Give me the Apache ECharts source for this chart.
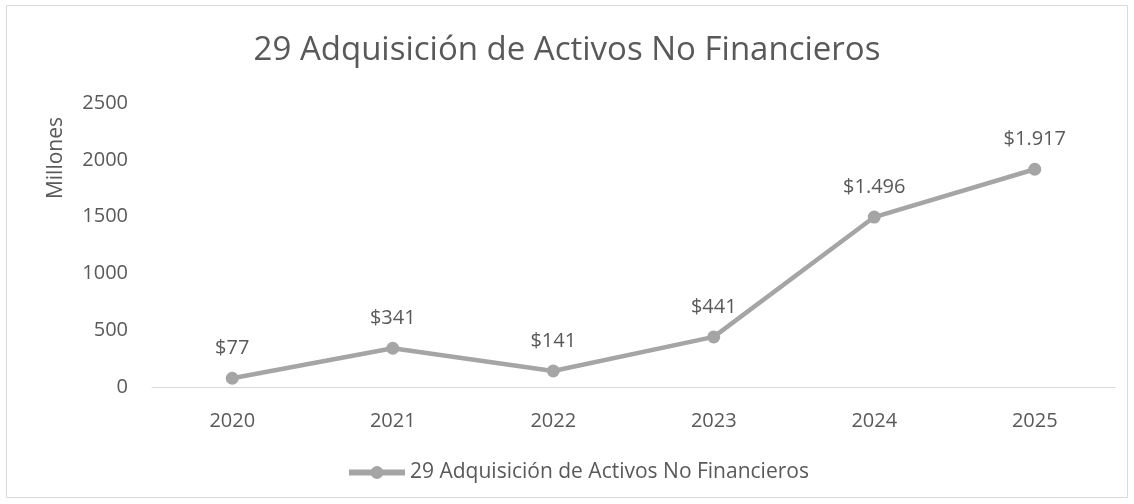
<!DOCTYPE html>
<html>
<head>
<meta charset="utf-8">
<script src="https://cdn.jsdelivr.net/npm/echarts@6/dist/echarts.min.js"></script>
<style>
  html, body { margin: 0; padding: 0; background: #fff; }
  #chart { width: 1134px; height: 504px; }
</style>
</head>
<body>
<div id="chart"></div>
<script>
// datos del gráfico
var years = ['2020', '2021', '2022', '2023', '2024', '2025'];
var montos = [77, 341, 141, 441, 1496, 1917];
var serieNombre = '29 Adquisición de Activos No Financieros';
var yTicks = [0, 500, 1000, 1500, 2000, 2500];

var textColor = '#595959';
var lineColor = '#A5A5A5';
var fontFam = '"Open Sans", "Liberation Sans", sans-serif';

function formatoPesos(v) {
  return '$' + String(v).replace(/\B(?=(\d{3})+(?!\d))/g, '.');
}

var chart = echarts.init(document.getElementById('chart'), null, { renderer: 'canvas' });

var option = {
  backgroundColor: '#ffffff',
  animation: false,
  textStyle: { fontFamily: fontFam, color: textColor },
  graphic: [{
    type: 'rect',
    shape: { x: 6.5, y: 5.5, width: 1121, height: 492 },
    style: { fill: 'none', stroke: '#D9D9D9', lineWidth: 1 },
    silent: true
  }],
  title: {
    text: serieNombre,
    left: 'center',
    top: 29,
    textStyle: { fontFamily: fontFam, fontSize: 33, fontWeight: 'normal', color: textColor }
  },
  legend: {
    bottom: 16,
    left: 341,
    itemWidth: 56,
    itemHeight: 16,
    itemGap: 6,
    lineStyle: { width: 6, color: lineColor },
    textStyle: { fontFamily: fontFam, fontSize: 21, color: textColor },
    data: [serieNombre]
  },
  grid: {
    left: 152,
    right: 19,
    top: 103,
    bottom: 117,
    containLabel: false
  },
  xAxis: {
    type: 'category',
    data: years,
    boundaryGap: true,
    axisLine: { show: true, lineStyle: { color: '#D9D9D9', width: 1 } },
    axisTick: { show: false },
    axisLabel: { fontFamily: fontFam, fontSize: 20, color: textColor, margin: 24 }
  },
  yAxis: {
    type: 'value',
    min: yTicks[0],
    max: yTicks[yTicks.length - 1],
    interval: 500,
    name: 'Millones',
    nameLocation: 'end',
    nameRotate: 90,
    nameGap: 0,
    nameTextStyle: { fontFamily: fontFam, fontSize: 21, color: textColor, align: 'right', verticalAlign: 'bottom', padding: [0, 14, 85, 0] },
    axisLine: { show: false },
    axisTick: { show: false },
    splitLine: { show: false },
    axisLabel: {
      fontFamily: fontFam, fontSize: 20, color: textColor, margin: 24,
      formatter: function (v) { return String(v); }
    }
  },
  series: [{
    name: serieNombre,
    type: 'line',
    data: montos,
    symbol: 'circle',
    symbolSize: 13,
    lineStyle: { color: lineColor, width: 4.5 },
    itemStyle: { color: lineColor },
    label: {
      show: true,
      position: 'top',
      distance: 13,
      fontFamily: fontFam,
      fontSize: 20,
      color: textColor,
      formatter: function (p) { return formatoPesos(p.value); }
    }
  }]
};

chart.setOption(option);
</script>
</body>
</html>
